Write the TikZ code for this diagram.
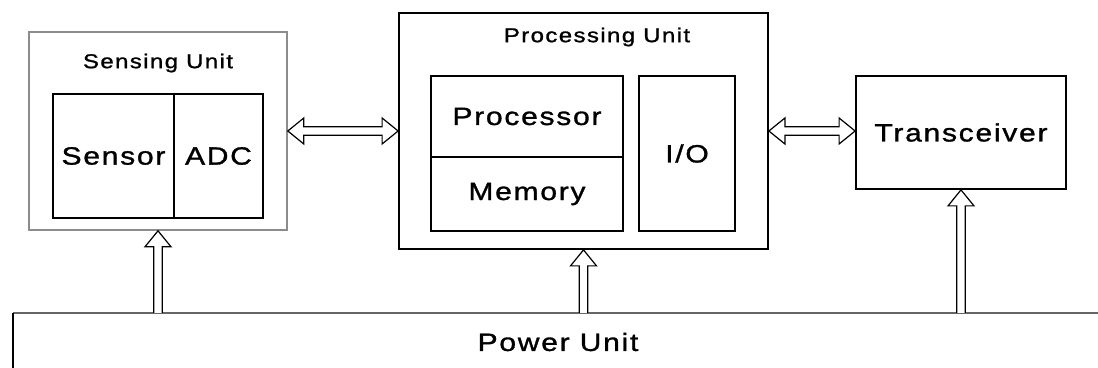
\documentclass[tikz,border=0pt]{standalone}
\usepackage{fontspec}
\setmainfont{Liberation Sans}[FakeStretch=1.2,LetterSpace=7,FakeBold=1.2]
\usetikzlibrary{calc}
\def\ah{2.1pt}
\def\aw{6.5pt}
\def\al{8pt}
\begin{document}
\begin{tikzpicture}[x=0.5pt,y=-0.5pt,
  box/.style={draw=black,line width=0.9pt,inner sep=0pt,align=center},
  faint/.style={draw=black!45,line width=0.8pt,inner sep=0pt},
  lbl/.style={inner sep=0pt,font=\fontsize{10}{12}\selectfont},
  big/.style={font=\fontsize{12.5}{15}\selectfont},
  blk/.style={draw=black,line width=0.6pt,fill=white,line join=miter}]
\useasboundingbox (0,0) rectangle (1098,368);
% sensing unit
\node[faint,minimum width=129pt,minimum height=99pt] (sense) at (158,131) {};
\node[lbl] (sensetitle) at (158,63) {Sensing Unit};
\node[box,big,minimum width=60.5pt,minimum height=62pt] (sensor) at (113.5,156) {Sensor};
\node[box,big,minimum width=44.5pt,minimum height=62pt] (adc) at (218.5,156) {ADC};
% processing unit
\node[box,minimum width=184.5pt,minimum height=118pt] (proc) at (583.5,131) {};
\node[lbl] (proctitle) at (597,37) {Processing Unit};
\node[box,big,minimum width=96pt,minimum height=40.5pt] (cpu) at (527,116.5) {Processor};
\node[box,big,minimum width=96pt,minimum height=37pt] (mem) at (527,194) {Memory};
\node[box,big,minimum width=48pt,minimum height=77.5pt] (io) at (687,153.5) {I/O};
% transceiver
\node[box,big,minimum width=105pt,minimum height=56.5pt] (trx) at (961,132.5) {Transceiver};
% power unit
\coordinate (pwrTL) at (13,313);
\coordinate (pwrBL) at (13,380);
\coordinate (pwrTR) at (1110,313);
\draw[black!60,line width=0.8pt] (pwrTL) -- (pwrTR);
\draw[black,line width=0.9pt] (pwrTL) -- (pwrBL);
\node[inner sep=0pt,big] (pwr) at (558,342) {Power Unit};
\coordinate (p1) at (158,313);
\coordinate (p2) at (583.5,313);
\coordinate (p3) at (961,313);
\coordinate (trxin) at (trx.west |- proc.east);
% connectors: hollow double-line arrows
\draw[blk] (sense.east) -- ($(sense.east)+(\al,\aw)$) -- ($(sense.east)+(\al,\ah)$)
  -- ($(proc.west)+(-\al,\ah)$) -- ($(proc.west)+(-\al,\aw)$) -- (proc.west)
  -- ($(proc.west)+(-\al,-\aw)$) -- ($(proc.west)+(-\al,-\ah)$)
  -- ($(sense.east)+(\al,-\ah)$) -- ($(sense.east)+(\al,-\aw)$) -- cycle;
\draw[blk] (proc.east) -- ($(proc.east)+(\al,\aw)$) -- ($(proc.east)+(\al,\ah)$)
  -- ($(trxin)+(-\al,\ah)$) -- ($(trxin)+(-\al,\aw)$) -- (trxin)
  -- ($(trxin)+(-\al,-\aw)$) -- ($(trxin)+(-\al,-\ah)$)
  -- ($(proc.east)+(\al,-\ah)$) -- ($(proc.east)+(\al,-\aw)$) -- cycle;
\draw[blk] ($(p1)+(-\ah,0)$) -- ($(sense.south)+(-\ah,-\al)$) -- ($(sense.south)+(-\aw,-\al)$)
  -- (sense.south) -- ($(sense.south)+(\aw,-\al)$) -- ($(sense.south)+(\ah,-\al)$) -- ($(p1)+(\ah,0)$);
\draw[blk] ($(p2)+(-\ah,0)$) -- ($(proc.south)+(-\ah,-\al)$) -- ($(proc.south)+(-\aw,-\al)$)
  -- (proc.south) -- ($(proc.south)+(\aw,-\al)$) -- ($(proc.south)+(\ah,-\al)$) -- ($(p2)+(\ah,0)$);
\draw[blk] ($(p3)+(-\ah,0)$) -- ($(trx.south)+(-\ah,-\al)$) -- ($(trx.south)+(-\aw,-\al)$)
  -- (trx.south) -- ($(trx.south)+(\aw,-\al)$) -- ($(trx.south)+(\ah,-\al)$) -- ($(p3)+(\ah,0)$);
\end{tikzpicture}
\end{document}
